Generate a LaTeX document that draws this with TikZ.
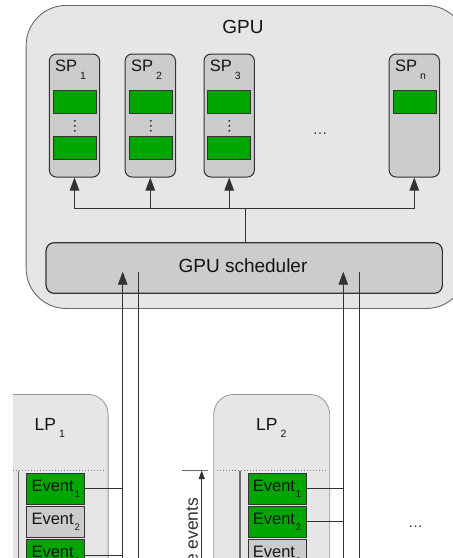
\documentclass[tikz,border=0pt]{standalone}
\usepackage{fontspec}
\setmainfont{Liberation Sans}
\usetikzlibrary{arrows.meta}
\definecolor{gpubg}{RGB}{230,230,230}
\definecolor{boxgray}{RGB}{204,204,204}
\definecolor{evgreen}{RGB}{0,166,0}
\definecolor{edgedark}{RGB}{50,50,50}
\definecolor{edgemid}{RGB}{105,105,105}
\definecolor{txt}{RGB}{20,20,20}
\definecolor{dotline}{RGB}{130,115,155}
\newcommand{\lowsub}[4]{\hspace{#1}\raisebox{-#2}{\fontsize{#3}{#3}\selectfont #4}}
\tikzset{
  gpubox/.style={draw=edgemid, fill=gpubg, line width=0.9pt, rounded corners=40pt, inner sep=0pt},
  spbox/.style={draw=edgedark, fill=boxgray, line width=1pt, rounded corners=7pt, minimum width=50.4pt, minimum height=123pt, inner sep=0pt},
  bar/.style={draw=edgedark, fill=evgreen, line width=0.8pt, minimum width=43pt, minimum height=23pt, inner sep=0pt},
  schedbox/.style={draw=edgedark, fill=boxgray, line width=1.2pt, rounded corners=8pt, minimum width=396.3pt, minimum height=50.6pt, inner sep=0pt},
  lpbox/.style={draw=edgemid!70, fill=gpubg, line width=0.8pt, rounded corners=20pt, minimum width=116pt, minimum height=240pt, inner sep=0pt, anchor=north west},
  evbox/.style={draw=edgedark, line width=0.8pt, minimum width=58pt, minimum height=30.5pt, inner sep=0pt, font=\fontsize{16.5}{16.5}\selectfont, text=txt},
  evg/.style={evbox, fill=evgreen},
  evy/.style={evbox, fill=boxgray},
  lbl/.style={inner sep=0pt, text=txt, anchor=base west},
  splbl/.style={lbl, font=\fontsize{16.5}{16.5}\selectfont},
  lplbl/.style={lbl, font=\fontsize{17.5}{17.5}\selectfont},
  conn/.style={draw=edgedark, line width=0.9pt},
  arr/.style={conn, -{Triangle[length=13pt,width=9.5pt]}},
  smallarr/.style={draw=edgedark, line width=0.8pt, -{Triangle[length=8.5pt,width=6pt]}},
  sepline/.style={draw=dotline, dotted, line width=1pt},
  inline/.style={draw=edgemid, line width=1.5pt},
  dotc/.style={fill=edgedark}
}
\begin{document}
\begin{tikzpicture}[x=1pt,y=-1pt]
\useasboundingbox (0,0) rectangle (453,558);
\clip (0,0) rectangle (453,558);

% GPU container
\node[gpubox, minimum width=440.3pt, minimum height=303pt, anchor=north west] (gpu) at (25.7,5) {};
\node[inner sep=0pt, text=txt, font=\fontsize{19}{19}\selectfont] (gpulab) at (243,27) {GPU};

% SP boxes
\node[spbox] (sp1) at (74.5,115.5) {};
\node[spbox] (sp2) at (150.3,115.5) {};
\node[spbox] (sp3) at (229.2,115.5) {};
\node[spbox] (spn) at (414.3,115.5) {};

\node[splbl] (sp1lab) at (55,71.7) {SP\lowsub{3pt}{8pt}{10.5}{1}};
\node[splbl] (sp2lab) at (131,71.7) {SP\lowsub{3pt}{8pt}{10.5}{2}};
\node[splbl] (sp3lab) at (209.7,71.7) {SP\lowsub{3pt}{8pt}{10.5}{3}};
\node[splbl] (spnlab) at (395,71.7) {SP\lowsub{3pt}{8pt}{10.5}{n}};

\node[bar] (g11) at (74.8,102.2) {};
\node[bar] (g12) at (74.8,147.7) {};
\node[bar] (g21) at (150.8,102.2) {};
\node[bar] (g22) at (150.8,147.7) {};
\node[bar] (g31) at (229.3,102.2) {};
\node[bar] (g32) at (229.3,147.7) {};
\node[bar] (gn1) at (414.5,102.2) {};

\foreach \xx in {74.8,150.8,229.3}{
  \fill[dotc] (\xx,120.8) circle (1.1);
  \fill[dotc] (\xx,125.8) circle (1.1);
  \fill[dotc] (\xx,130.8) circle (1.1);
}

\node[inner sep=0pt, text=edgedark, font=\fontsize{15}{15}\selectfont] (gdots) at (320,134) {…};

% scheduler
\node[schedbox] (sched) at (244.2,268) {};
\node[inner sep=0pt, text=txt, font=\fontsize{19}{19}\selectfont] (schedlab) at (243,266) {GPU scheduler};

% bus to SPs
\coordinate (busc) at (245.7,208);
\draw[conn] (busc |- sched.north) -- (busc);
\draw[arr] (busc) -| (sp1.south);
\draw[arr] (busc) -| (sp2.south);
\draw[arr] (busc) -| (sp3.south);
\draw[arr] (busc) -| (spn.south);

% LP1 (clipped at left)
\begin{scope}
\clip (13,380) rectangle (453,570);
\node[lpbox] (lp1) at (-8.3,394) {};
\end{scope}
\node[lpbox] (lp2) at (213.3,394) {};

\node[lplbl] (lp1lab) at (34.5,430.7) {LP\lowsub{3pt}{7pt}{10.5}{1}};
\node[lplbl] (lp2lab) at (256,430.7) {LP\lowsub{3pt}{7pt}{10.5}{2}};

\draw[sepline] (13,470.3) -- (105,470.3);
\draw[sepline] (216.7,470.3) -- (325.7,470.3);
\draw[inline] (18.3,471) -- (18.3,565);
\draw[inline] (240,471) -- (240,565);

% events
\node[evg] (e11) at (55.7,488.7) {Event\lowsub{0.8pt}{6.6pt}{9.5}{1}};
\node[evy] (e12) at (55.7,521.9) {Event\lowsub{0.8pt}{6.6pt}{9.5}{2}};
\node[evg] (e13) at (55.7,555.1) {Event\lowsub{0.8pt}{6.6pt}{9.5}{3}};
\node[evg] (e21) at (277,488.7) {Event\lowsub{0.8pt}{6.6pt}{9.5}{1}};
\node[evg] (e22) at (277,521.9) {Event\lowsub{0.8pt}{6.6pt}{9.5}{2}};
\node[evy] (e23) at (277,555.1) {Event\lowsub{0.8pt}{6.6pt}{9.5}{3}};

% lines between LPs and scheduler
\coordinate (a1) at (122.7,271.7);
\coordinate (a1b) at (122.7,565);
\coordinate (b1) at (138.3,271.7);
\coordinate (b1b) at (138.3,565);
\coordinate (a2) at (343.3,271.7);
\coordinate (a2b) at (343.3,565);
\coordinate (b2) at (359.3,271.7);
\coordinate (b2b) at (359.3,565);
\draw[arr] (a1b) -- (a1);
\draw[conn] (b1) -- (b1b);
\draw[arr] (a2b) -- (a2);
\draw[conn] (b2) -- (b2b);

\draw[conn] (e11.east) -- (e11.east -| a1);
\draw[conn] (e13.east) -- (e13.east -| a1);
\draw[conn] (e21.east) -- (e21.east -| a2);
\draw[conn] (e22.east) -- (e22.east -| a2);

% safe events dimension
\coordinate (dtl) at (182.3,470.3);
\coordinate (dtr) at (208.3,470.3);
\coordinate (dtop) at (201.7,470.5);
\coordinate (dbot) at (201.7,565);
\draw[draw=edgemid, line width=0.7pt] (dtl) -- (dtr);
\draw[smallarr] (dbot) -- (dtop);
\node[inner sep=0pt, rotate=90, anchor=east, text=edgedark, font=\fontsize{17.5}{17.5}\selectfont] (safelab) at (191.7,497.5) {safe events};

\node[inner sep=0pt, text=edgedark, font=\fontsize{15}{15}\selectfont] (lpdots) at (415.7,527) {…};
\end{tikzpicture}
\end{document}
